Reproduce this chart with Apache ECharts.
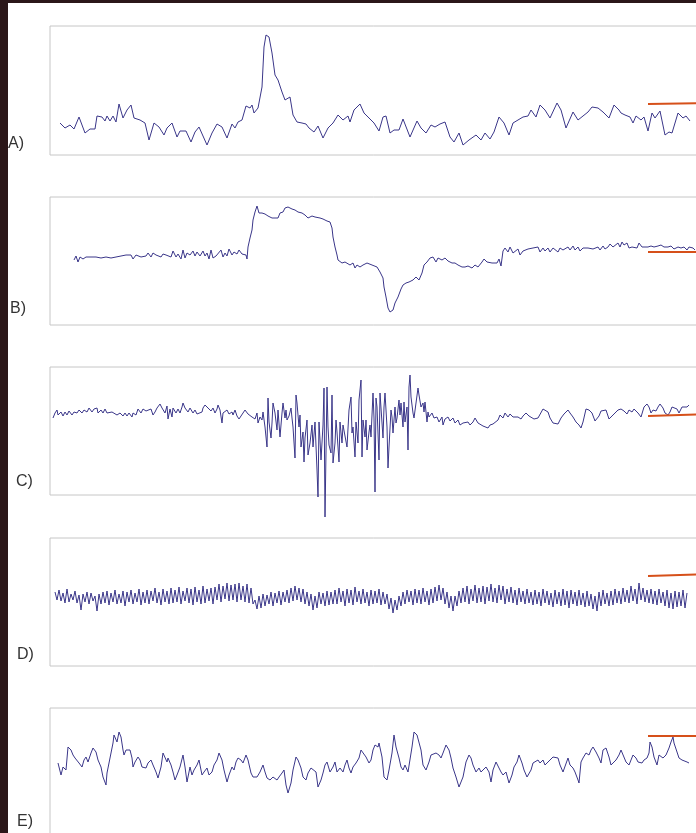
<!DOCTYPE html>
<html>
<head>
<meta charset="utf-8">
<script src="https://cdn.jsdelivr.net/npm/echarts/dist/echarts.min.js"></script>
<style>
html,body{margin:0;padding:0;background:#fff;}
#chart{width:696px;height:833px;}
</style>
</head>
<body>
<div id="chart"></div>
<script>
// ---- data (time units, amplitude units) ----
const panelLabels = ['A)', 'B)', 'C)', 'D)', 'E)'];

const traceA = [[10,32],[15,27],[20,30],[24,26],[29,38],[35,22],[40,26],[45,26],[47,39],[52,38],[55,34],[57,39],[60,34],[63,39],[66,33],[69,51],[73,37],[77,45],[81,50],[84,37],[90,35],[95,32],[99,15],[104,32],[109,28],[114,20],[117,27],[122,32],[127,18],[130,24],[136,24],[141,13],[145,23],[149,28],[153,19],[157,10],[162,22],[167,31],[172,28],[177,17],[182,31],[185,27],[188,33],[192,35],[196,49],[200,47],[202,50],[204,42],[208,47],[212,68],[214,108],[216,120],[219,118],[222,102],[225,80],[228,75],[232,63],[235,55],[240,58],[243,40],[247,33],[252,32],[256,31],[259,27],[264,23],[268,29],[273,17],[278,27],[283,32],[288,40],[293,35],[298,39],[300,33],[304,45],[310,51],[314,42],[319,37],[324,32],[329,24],[333,38],[336,39],[340,22],[344,25],[349,25],[353,36],[360,18],[367,34],[371,27],[376,22],[381,30],[385,28],[390,31],[395,33],[400,18],[404,13],[409,22],[413,10],[419,15],[426,20],[431,15],[435,22],[440,16],[444,23],[449,38],[454,32],[459,20],[463,32],[468,35],[473,38],[478,39],[481,45],[486,38],[490,50],[495,45],[500,37],[507,52],[511,45],[516,27],[523,43],[528,35],[533,39],[538,43],[542,48],[548,47],[553,43],[559,37],[564,50],[569,45],[571,42],[575,40],[580,38],[583,32],[586,39],[591,35],[594,38],[598,24],[602,42],[605,37],[610,44],[615,20],[619,23],[622,22],[628,42],[633,37],[636,39],[640,34]];

const traceB = [[24,65],[26,69],[28,63],[30,68],[33,66],[36,68],[38,66],[41,68],[43,66],[46,68],[48,66],[51,67],[53,65],[56,68],[58,66],[61,67],[63,66],[66,68],[68,66],[71,69],[73,68],[76,70],[78,68],[81,70],[83,66],[86,70],[88,68],[91,68],[93,67],[96,69],[98,72],[101,68],[103,72],[106,70],[108,72],[111,68],[113,71],[116,70],[118,72],[121,68],[123,74],[126,68],[128,71],[131,66],[133,75],[135,67],[137,72],[140,70],[143,74],[145,69],[147,73],[150,69],[153,74],[155,69],[157,72],[159,66],[161,75],[163,67],[166,69],[168,68],[171,75],[173,68],[175,72],[177,69],[179,76],[182,70],[184,73],[187,71],[189,75],[192,71],[194,73],[196,70],[197,66],[198,78],[200,87],[202,95],[203,105],[205,113],[207,119],[209,112],[212,112],[215,111],[218,109],[222,107],[225,107],[227,109],[228,107],[230,112],[232,114],[233,113],[235,117],[238,118],[242,116],[245,115],[248,113],[250,114],[252,112],[255,110],[258,107],[262,109],[265,108],[267,110],[270,107],[273,106],[277,104],[278,102],[280,103],[282,97],[283,88],[285,78],[287,70],[288,65],[292,62],[295,63],[297,61],[300,60],[303,62],[305,57],[307,60],[310,58],[313,60],[317,62],[319,63],[322,60],[324,61],[327,58],[330,53],[333,47],[334,38],[336,28],[338,17],[340,13],[343,15],[345,22],[348,28],[351,36],[353,40],[356,42],[359,43],[363,45],[366,48],[369,45],[372,52],[374,60],[377,63],[380,67],[383,68],[386,63],[388,67],[392,65],[395,67],[398,64],[402,62],[405,62],[408,60],[412,58],[415,58],[418,59],[422,57],[425,60],[428,58],[432,63],[434,66],[437,63],[439,65],[442,62],[444,64],[447,62],[449,66],[451,59],[453,74],[455,77],[458,73],[460,78],[463,72],[465,74],[468,76],[470,70],[473,74],[475,75],[478,76],[480,76],[483,77],[485,75],[488,78],[490,73],[493,77],[495,74],[498,77],[500,73],[503,77],[505,75],[508,73],[510,77],[513,75],[515,74],[518,78],[520,75],[523,79],[525,75],[528,78],[530,74],[533,77],[535,75],[538,77],[540,75],[543,76],[545,75],[548,78],[550,75],[553,79],[555,76],[558,78],[560,81],[563,78],[565,79],[568,82],[570,78],[572,83],[574,80],[577,82],[579,77],[582,78],[584,80],[587,77],[589,82],[592,78],[594,80],[598,78],[601,79],[604,78],[608,79],[611,80],[614,78],[618,78],[621,79],[624,76],[628,78],[631,77],[634,78],[637,75],[639,78],[643,77],[645,75]];

const traceC = [[3,77],[5,82],[7,85],[8,80],[11,83],[13,79],[15,83],[17,80],[19,84],[22,80],[24,83],[27,82],[29,85],[32,82],[34,85],[37,83],[39,87],[42,83],[44,86],[47,87],[48,82],[51,85],[53,82],[55,86],[57,82],[59,84],[62,83],[64,82],[67,80],[68,78],[70,82],[73,79],[75,82],[77,79],[79,82],[82,78],[83,82],[86,80],[88,86],[91,82],[93,86],[96,84],[98,82],[101,86],[103,80],[105,83],[107,87],[110,91],[112,87],[113,86],[115,82],[117,89],[118,76],[120,86],[122,78],[123,87],[126,82],[128,86],[130,82],[132,88],[133,92],[135,87],[137,89],[138,83],[140,87],[143,82],[145,85],[147,81],[149,82],[152,83],[153,87],[155,90],[157,92],[158,87],[161,84],[163,87],[165,82],[167,86],[168,90],[170,85],[172,72],[173,82],[175,80],[177,85],[179,81],[182,83],[183,80],[185,85],[187,79],[189,76],[191,79],[193,82],[195,85],[197,83],[198,81],[200,82],[202,78],[203,79],[205,76],[207,82],[208,72],[210,78],[212,75],[213,83],[215,68],[217,48],[218,97],[219,73],[221,57],[222,72],[223,92],[225,82],[227,65],[228,85],[230,58],[232,82],[233,92],[235,77],[236,85],[237,75],[239,79],[241,87],[242,77],[243,68],[245,37],[246,100],[247,92],[249,68],[250,80],[251,48],[253,63],[254,33],[255,57],[257,75],[258,40],[260,52],[262,70],[263,48],[265,73],[267,25],[268,-2],[269,73],[270,55],[271,35],[273,70],[274,107],[275,-22],[277,108],[278,68],[279,50],[281,42],[282,100],[283,32],[285,52],[286,75],[287,63],[289,33],[290,73],[292,52],[293,70],[295,68],[297,48],[299,85],[301,98],[302,62],[303,68],[305,38],[306,73],[308,52],[309,95],[311,115],[312,38],[313,75],[315,58],[316,75],[317,45],[319,63],[320,70],[321,58],[323,102],[324,77],[325,3],[326,97],[327,88],[329,35],[330,102],[331,87],[333,57],[334,88],[335,102],[337,68],[338,27],[339,48],[341,85],[342,78],[343,62],[345,88],[346,72],[347,77],[349,95],[350,80],[351,92],[353,68],[354,93],[355,73],[357,88],[358,45],[359,108],[360,120],[361,98],[363,82],[364,77],[366,92],[368,107],[369,100],[371,88],[373,92],[374,83],[375,93],[377,73],[378,83],[379,78],[382,82],[384,77],[387,78],[389,73],[392,78],[393,70],[395,76],[398,78],[400,74],[403,77],[405,72],[408,75],[410,70],[413,72],[415,72],[418,73],[420,70],[423,73],[425,77],[428,72],[429,72],[433,69],[435,71],[438,67],[440,70],[443,71],[445,73],[448,75],[450,80],[453,77],[455,82],[458,78],[460,81],[463,78],[465,77],[468,78],[471,76],[473,79],[476,82],[479,79],[481,77],[484,76],[488,77],[490,78],[493,86],[495,87],[498,83],[500,77],[503,72],[505,73],[508,71],[511,77],[514,81],[518,85],[520,82],[523,78],[526,73],[529,70],[531,67],[533,73],[536,86],[539,85],[542,82],[545,74],[549,79],[551,84],[553,82],[556,85],[559,76],[563,80],[565,82],[568,85],[571,86],[574,84],[577,81],[579,85],[582,83],[584,86],[588,82],[591,78],[594,88],[597,91],[599,88],[601,82],[603,85],[606,84],[608,88],[610,91],[613,87],[615,82],[618,80],[620,83],[622,88],[624,90],[627,86],[629,82],[632,88],[634,86],[637,88],[639,90]];

// D is sampled on a regular grid: first sample time and sampling step
const traceDStart = 5;
const traceDStep = 2;
const traceDValues = [
74,66,76,65,73,63,77,64,72,66,75,63,71,56,72,64,74,62,73,65,
70,55,72,62,74,63,75,61,73,64,76,62,72,63,75,60,74,64,76,62,
73,64,77,61,74,63,76,62,75,65,78,63,74,61,77,64,75,62,78,63,
76,64,79,62,75,65,78,63,77,61,79,64,76,62,80,63,77,65,78,62,
79,66,82,64,80,67,83,65,81,66,82,64,83,66,80,64,82,63,78,62,
66,57,70,58,72,60,71,62,74,60,73,63,75,61,74,64,76,63,78,65,
80,66,78,64,77,62,74,60,72,56,70,58,74,62,73,60,75,61,74,62,
76,62,78,64,75,60,77,63,76,61,79,64,75,62,77,63,74,60,76,62,
75,63,77,61,74,62,72,57,68,53,66,56,70,60,74,62,76,64,75,61,
77,63,76,62,78,64,75,61,77,63,79,65,81,66,78,62,74,58,70,55,
70,60,75,63,78,64,80,62,77,65,81,63,78,64,80,62,79,65,82,64,
78,63,81,66,80,62,77,64,79,63,76,61,78,64,75,62,77,63,74,61,
76,62,74,60,77,63,75,61,73,59,76,62,74,60,77,61,75,58,76,62,
74,60,76,61,73,59,75,60,72,57,70,55,74,60,76,62,73,60,75,61,
77,63,75,62,78,64,76,63,80,65,77,62,83,66,78,64,76,63,77,62,
75,61,77,63,74,60,76,58,73,57,75,59,74,60,76,58,73];

const traceE = [[8,73],[11,61],[13,69],[16,66],[18,89],[21,86],[23,81],[25,78],[27,79],[29,73],[32,69],[34,76],[36,79],[38,74],[41,83],[43,88],[46,84],[48,76],[51,69],[53,59],[56,51],[57,63],[60,78],[63,93],[64,101],[67,94],[69,104],[71,99],[73,86],[74,81],[76,86],[78,84],[80,86],[82,78],[83,69],[85,74],[87,73],[88,79],[90,76],[92,69],[93,71],[96,68],[98,73],[101,76],[103,71],[106,64],[108,58],[111,69],[113,83],[115,81],[117,74],[118,78],[121,71],[123,64],[125,56],[127,61],[130,69],[133,81],[135,69],[137,54],[140,69],[142,61],[144,66],[147,71],[149,76],[152,61],[154,64],[157,68],[159,61],[162,64],[164,71],[167,76],[169,83],[172,76],[174,66],[177,54],[179,61],[182,69],[184,66],[186,74],[188,78],[191,76],[193,73],[196,81],[198,76],[201,63],[203,59],[205,58],[207,59],[210,64],[213,71],[215,64],[217,58],[220,56],[223,59],[225,61],[227,56],[229,59],[232,63],[234,66],[236,51],[238,43],[241,53],[243,66],[246,79],[248,76],[251,68],[253,59],[256,56],[258,63],[261,68],[263,69],[266,64],[268,49],[271,56],[273,63],[275,71],[277,74],[280,64],[283,69],[285,74],[287,64],[290,68],[293,64],[295,71],[297,76],[299,68],[301,63],[303,69],[306,73],[309,78],[311,86],[313,88],[316,79],[319,73],[321,76],[323,86],[325,91],[328,89],[329,93],[332,79],[334,59],[337,56],[339,66],[342,83],[344,101],[346,89],[349,78],[351,69],[353,66],[355,71],[358,64],[359,64],[362,89],[364,104],[367,101],[369,103],[371,86],[373,71],[376,66],[379,74],[381,81],[383,79],[386,83],[389,81],[391,78],[393,83],[396,91],[399,86],[401,78],[403,68],[406,59],[409,49],[411,48],[413,59],[416,74],[419,81],[421,78],[423,71],[426,64],[429,68],[431,64],[433,66],[436,69],[439,64],[441,54],[443,66],[446,74],[449,68],[451,64],[453,61],[456,64],[459,53],[462,61],[464,69],[467,74],[469,81],[472,73],[474,66],[477,59],[479,61],[481,66],[483,73],[485,74],[488,76],[490,73],[493,76],[495,71],[498,74],[500,76],[503,79],[505,81],[508,78],[510,71],[513,64],[515,64],[518,78],[520,71],[523,68],[525,64],[528,56],[529,53],[531,74],[533,78],[536,83],[539,81],[541,86],[543,89],[546,84],[549,78],[551,73],[553,86],[556,88],[559,79],[561,71],[563,71],[566,76],[569,81],[571,86],[573,84],[576,74],[579,71],[581,76],[583,81],[586,78],[588,74],[590,76],[592,73],[594,76],[597,78],[599,83],[600,94],[602,89],[604,79],[607,71],[609,81],[611,83],[613,78],[616,81],[619,88],[621,94],[623,99],[624,93],[627,84],[629,78],[632,76],[634,77],[637,74],[639,73]];

// short orange reference segments (start, end) per panel
const refA = [[598,51],[660,52]];
const refB = [[598,73],[660,73]];
const refC = [[598,79],[660,81]];
const refD = [[598,90],[660,92]];
const refE = [[598,100],[660,100]];

// ---- build ----
const traceD = traceDValues.map((v, i) => [traceDStart + i * traceDStep, v]);
const traces = [traceA, traceB, traceC, traceD, traceE];
const refs = [refA, refB, refC, refD, refE];

const layout = [
  {top: 26, height: 129, lx: 8, ly: 136},
  {top: 197, height: 128, lx: 10, ly: 301},
  {top: 367, height: 128, lx: 16, ly: 474},
  {top: 538, height: 128, lx: 17, ly: 647},
  {top: 708, height: 128, lx: 17, ly: 814}
];

const traceColor = '#3a3689';
const refColor = '#d6501a';

const grids = [], xAxes = [], yAxes = [], series = [], graphics = [];
layout.forEach((p, i) => {
  grids.push({left: 50, top: p.top, width: 660, height: p.height, show: true,
    outerBoundsMode: 'none', containLabel: false,
    borderColor: '#c6c6c6', borderWidth: 1, backgroundColor: 'transparent'});
  xAxes.push({type: 'value', gridIndex: i, min: 0, max: 660, show: false});
  yAxes.push({type: 'value', gridIndex: i, min: 0, max: p.height, show: false});
  series.push({type: 'line', xAxisIndex: i, yAxisIndex: i, data: traces[i],
    symbol: 'none', clip: false, silent: true,
    lineStyle: {color: traceColor, width: 1}});
  series.push({type: 'line', xAxisIndex: i, yAxisIndex: i, data: refs[i],
    symbol: 'none', clip: false, silent: true,
    lineStyle: {color: refColor, width: 2}});
  graphics.push({type: 'text', left: p.lx, top: p.ly,
    style: {text: panelLabels[i], font: '16px "Liberation Sans", Arial, sans-serif', fill: '#333'}});
});
graphics.push({type: 'rect', shape: {x: 0, y: 0, width: 696, height: 3}, style: {fill: '#2b1719'}, z: 100});
graphics.push({type: 'rect', shape: {x: 0, y: 0, width: 8, height: 833}, style: {fill: '#2b1719'}, z: 100});

const chart = echarts.init(document.getElementById('chart'));
chart.setOption({
  animation: false,
  grid: grids,
  xAxis: xAxes,
  yAxis: yAxes,
  series: series,
  graphic: graphics
});
</script>
</body>
</html>
